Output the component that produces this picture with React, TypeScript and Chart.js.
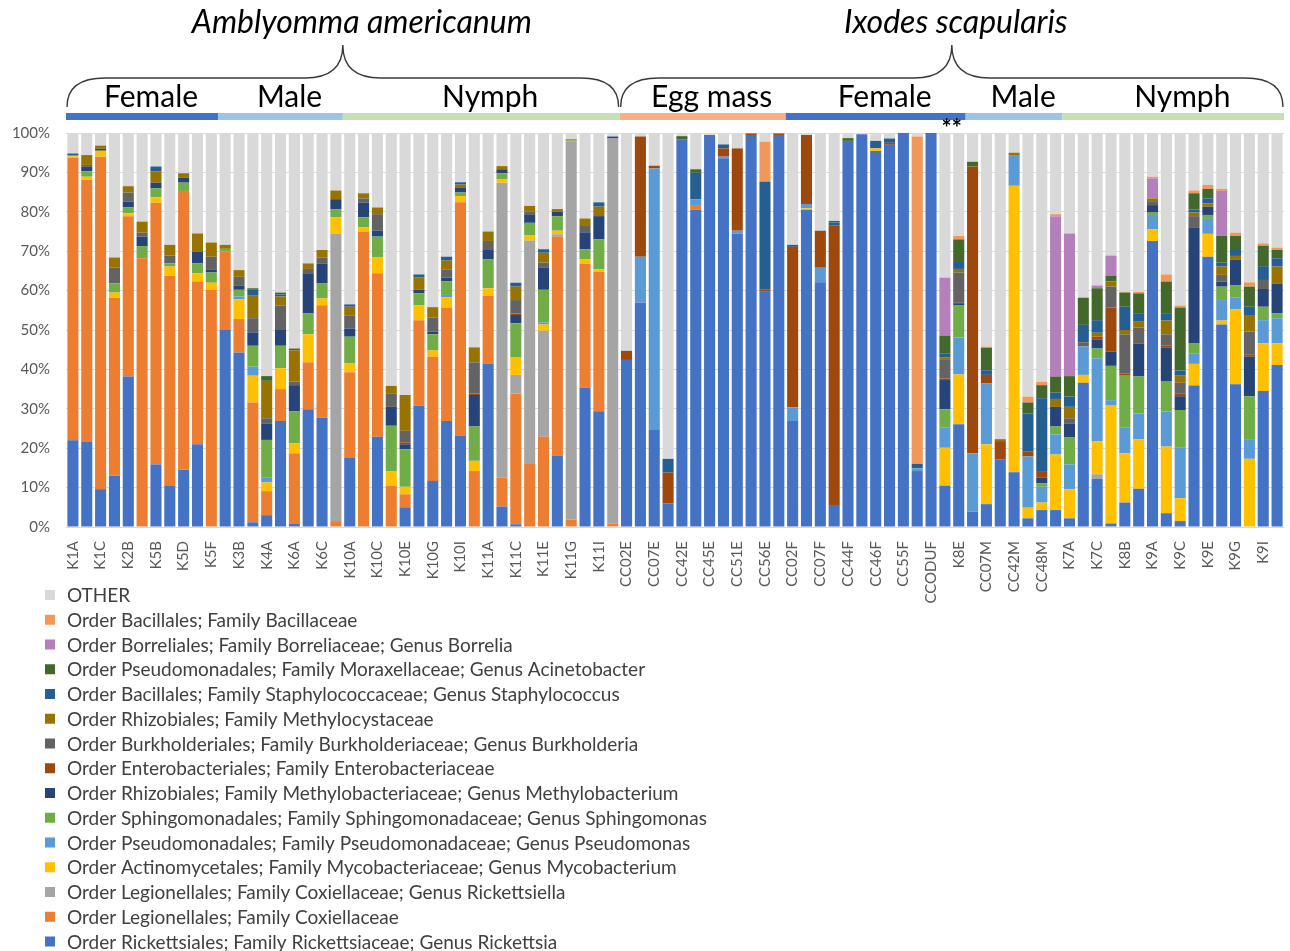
import React, { useEffect, useRef } from 'react';
import { Chart, registerables } from 'chart.js';

Chart.register(...registerables);

// Sample labels (only every second sample is labelled on the axis)
const sampleLabels = [
  'K1A', '', 'K1C', '', 'K2B', '', 'K5B', '', 'K5D', '',
  'K5F', '', 'K3B', '', 'K4A', '', 'K6A', '', 'K6C', '',
  'K10A', '', 'K10C', '', 'K10E', '', 'K10G', '', 'K10I', '',
  'K11A', '', 'K11C', '', 'K11E', '', 'K11G', '', 'K11I', '',
  'CC02E', '', 'CC07E', '', 'CC42E', '', 'CC45E', '', 'CC51E', '',
  'CC56E', '', 'CC02F', '', 'CC07F', '', 'CC44F', '', 'CC46F', '',
  'CC55F', '', 'CCODUF', '', 'K8E', '', 'CC07M', '', 'CC42M', '',
  'CC48M', '', 'K7A', '', 'K7C', '', 'K8B', '', 'K9A', '',
  'K9C', '', 'K9E', '', 'K9G', '', 'K9I', '',
];

const yTickValues = [0, 10, 20, 30, 40, 50, 60, 70, 80, 90, 100];

// Series values (% of reads), bottom of stack first
const rickettsia = [
  22, 21.6, 9.6, 13.0, 38.2, 0, 15.9, 10.5, 14.5, 21.0,
  0, 50.0, 44.3, 1.2, 3.0, 26.9, 0.9, 29.9, 27.7, 0,
  17.6, 0, 22.9, 0, 5.0, 30.8, 11.7, 26.9, 23.2, 0,
  41.5, 5.2, 0.7, 0, 0, 18.1, 0, 35.4, 29.4, 0,
  42.4, 57.0, 24.6, 6.0, 98.4, 80.6, 99.5, 93.6, 74.5, 99.5,
  59.7, 99.5, 26.9, 80.5, 62.1, 5.6, 98.0, 99.7, 95.4, 97.0,
  100, 14.2, 100, 10.5, 26.1, 3.9, 5.8, 17.2, 13.9, 2.2,
  4.3, 4.3, 2.2, 36.6, 12.2, 0.9, 6.2, 9.7, 72.6, 3.5,
  1.5, 35.9, 68.6, 51.4, 36.2, 0, 34.5, 41.1,
];
const coxiellaceae = [
  71.7, 66.5, 84.4, 45.2, 40.7, 68.2, 66.4, 53.3, 70.8, 41.3,
  60.2, 19.9, 8.5, 30.4, 6.1, 8.1, 17.8, 11.9, 28.6, 1.5,
  21.7, 75.0, 41.5, 10.5, 3.3, 21.7, 31.5, 28.8, 59.2, 14.2,
  17.2, 7.3, 33.2, 16.0, 22.9, 55.6, 1.9, 31.4, 35.4, 0.9,
  0, 0, 0, 0, 0, 0.9, 0, 0, 0, 0,
  0, 0, 0, 0, 0, 0, 0, 0, 0, 0,
  0, 0, 0, 0, 0, 0, 0, 0, 0, 0,
  0, 0, 0, 0, 0, 0, 0, 0, 0, 0,
  0, 0, 0, 0, 0, 0, 0, 0,
];
const rickettsiella = [
  0, 0, 0, 0, 0, 0, 0, 0, 0, 0,
  0, 0, 0, 0, 0, 0, 0, 0, 0, 73.0,
  0, 0, 0, 0, 0, 0, 0, 0, 0, 0,
  0, 74.9, 4.7, 56.7, 26.9, 0.6, 95.9, 0, 0, 97.7,
  0, 0, 0, 0, 0, 0, 0, 0, 0, 0,
  0, 0, 0, 0, 0, 0, 0, 0, 0, 0,
  0, 0, 0, 0, 0, 0, 0, 0, 0, 0,
  0, 0, 0, 0, 1.2, 0, 0, 0, 0, 0,
  0, 0, 0, 0, 0, 0, 0, 0,
];
const mycobacterium = [
  0.4, 0.8, 1.5, 1.3, 0.7, 0, 1.4, 2.3, 0, 2.1,
  1.8, 0, 5.0, 6.8, 2.2, 5.3, 2.5, 7.1, 1.7, 4.1,
  2.2, 1.1, 4.0, 3.7, 1.9, 3.8, 1.6, 2.6, 1.6, 2.6,
  1.9, 0.9, 4.4, 1.4, 1.6, 0.9, 0, 1.1, 0.6, 0,
  0, 0, 0, 0, 0, 0, 0, 0, 0, 0,
  0, 0, 0, 0.4, 0, 0, 0, 0, 0.7, 0,
  0, 0, 0, 9.6, 12.6, 0, 15.2, 0, 72.7, 2.7,
  1.9, 14.1, 7.4, 2.0, 8.4, 29.9, 12.5, 12.6, 3.0, 16.9,
  5.8, 5.5, 5.8, 1.0, 19.1, 17.3, 12.1, 5.5,
];
const pseudomonas = [
  0, 0, 0, 0, 0, 0, 0, 0, 0, 0,
  0, 0, 0.7, 2.3, 1.2, 0, 0, 0, 0, 0,
  0, 0, 0, 0, 0, 0, 0, 0.6, 0, 0,
  0, 0, 0, 0, 0.5, 0, 0, 0, 0, 0,
  0, 11.6, 66.4, 0, 0, 1.7, 0, 0.4, 0.7, 0,
  0, 0, 3.4, 1.1, 3.7, 0, 0, 0, 0, 0,
  0, 0.7, 0, 5.1, 9.4, 14.8, 15.5, 0, 7.8, 13.0,
  4.0, 5.1, 6.3, 7.2, 21.0, 1.4, 6.5, 6.5, 3.6, 8.9,
  12.8, 2.7, 3.8, 5.2, 2.9, 5.0, 5.9, 6.4,
];
const sphingomonas = [
  0.3, 1.4, 0, 2.3, 1.5, 3.1, 2.3, 0.8, 2.1, 2.5,
  2.6, 0.7, 1.7, 5.3, 9.6, 5.7, 8.2, 5.3, 3.8, 2.0,
  6.8, 2.5, 5.3, 11.5, 9.5, 3.0, 4.1, 3.5, 0.9, 8.7,
  7.3, 1.5, 8.7, 3.1, 8.3, 3.7, 0.3, 2.6, 7.6, 0,
  0, 0, 0, 0, 0, 0, 0, 0, 0, 0,
  0, 0, 0, 0, 0, 0, 0, 0, 0, 0,
  0, 0, 0, 4.7, 8.1, 0, 0, 0, 0, 0,
  0.9, 2.0, 6.8, 0, 2.5, 8.7, 13.2, 9.4, 0.6, 7.6,
  9.6, 2.5, 1.0, 3.4, 3.1, 10.9, 3.4, 1.2,
];
const methylobacterium = [
  0, 1.1, 0.5, 0, 1.5, 2.4, 1.4, 0, 1.3, 3.0,
  0.8, 0, 1.0, 3.4, 4.2, 4.0, 6.6, 10.2, 5.1, 2.6,
  2.1, 3.7, 1.5, 4.8, 1.3, 0.9, 0.7, 0.9, 1.3, 8.0,
  2.4, 1.0, 2.1, 2.0, 5.7, 1.1, 0, 4.3, 5.9, 0.5,
  0, 0, 0, 0, 0, 0, 0, 0, 0, 0,
  0, 0, 0, 0, 0, 0, 0, 0, 0, 0,
  0, 0, 0, 7.4, 0.4, 0, 0, 0, 0, 0,
  1.4, 5.0, 3.6, 0, 2.2, 3.6, 0, 8.4, 1.9, 8.7,
  3.5, 29.5, 2.1, 1.3, 6.5, 10.0, 4.5, 7.6,
];
const enterobacteriaceae = [
  0, 0, 0, 0, 0, 0, 0, 0, 0, 0,
  0, 0, 0, 0, 0, 0, 0, 0, 0, 0,
  0, 0, 0, 0, 0.5, 0, 0, 0, 0, 0.4,
  0, 0, 0.4, 0, 0, 0, 0, 0, 0, 0,
  2.3, 30.5, 0.7, 7.8, 0, 0, 0, 2.1, 20.9, 0.4,
  0.6, 0.4, 40.8, 17.5, 9.4, 70.9, 0, 0, 0, 0.5,
  0, 0, 0, 0.4, 0.3, 72.8, 2.1, 4.6, 0, 1.2,
  1.7, 0, 0, 0, 0.8, 11.2, 0.6, 0, 0, 0.4,
  0.6, 0, 0, 0, 0, 0.5, 0, 0,
];
const burkholderia = [
  0, 0.5, 0, 4.1, 2.3, 1.0, 0, 2.0, 0, 0,
  3.2, 0, 2.3, 3.6, 1.3, 6.2, 0.9, 1.1, 1.5, 0,
  3.2, 1.1, 4.2, 3.3, 2.9, 0, 3.6, 2.1, 0, 7.9,
  2.3, 0, 3.4, 0.8, 1.2, 0, 0, 1.6, 0, 0,
  0, 0, 0, 0, 0, 0, 0, 0, 0, 0,
  0, 0, 0, 0, 0, 0, 0, 0, 0, 0,
  0, 0, 0, 4.7, 7.7, 0, 0, 0, 0, 0,
  0, 0, 1.3, 1.1, 0, 5.3, 9.9, 4.0, 0.8, 2.9,
  2.8, 2.8, 0, 1.7, 0, 5.9, 2.3, 0,
];
const methylocystaceae = [
  0, 2.5, 0.8, 2.5, 1.6, 2.8, 2.8, 2.7, 1.1, 4.6,
  3.6, 1.0, 1.7, 5.7, 9.5, 2.3, 7.9, 1.4, 1.9, 2.2,
  2.3, 1.3, 1.7, 2.0, 9.1, 3.2, 2.6, 2.2, 0.7, 3.8,
  2.4, 0.8, 3.4, 1.5, 2.5, 0.7, 0.3, 1.9, 2.4, 0,
  0, 0, 0, 0, 0, 0, 0, 0, 0, 0,
  0, 0, 0, 0, 0, 0, 0, 0, 0, 0,
  0, 0, 0, 0.7, 0.9, 0, 0, 0.5, 0.6, 0,
  0, 2.0, 2.9, 0, 1.0, 1.3, 1.1, 1.5, 0.9, 3.5,
  1.8, 0.9, 0.8, 2.1, 1.0, 4.0, 0, 4.3,
];
const staphylococcus = [
  0.4, 0, 0, 0, 0, 0, 1.3, 0, 0, 0,
  0, 0, 0, 1.5, 0, 0.5, 0, 0, 0, 0,
  0.6, 0, 0, 0, 0, 0.7, 0, 1.0, 0.6, 0,
  0, 0, 1.0, 0, 0.9, 0, 0, 0, 1.1, 0,
  0, 0, 0, 3.5, 0, 6.7, 0, 1.0, 0, 0,
  27.3, 0, 0.5, 0, 0, 0.8, 0, 0, 1.9, 1.1,
  0, 1.1, 0, 1.0, 2.0, 0, 1.2, 0, 0, 9.7,
  18.5, 1.6, 2.6, 4.4, 3.2, 0, 5.9, 2.0, 0, 1.7,
  1.3, 0.8, 1.3, 1.0, 1.5, 2.3, 3.5, 2.1,
];
const acinetobacter = [
  0, 0, 0, 0, 0, 0, 0, 0, 0, 0,
  0, 0, 0, 0.4, 1.2, 0.5, 0.5, 0, 0, 0,
  0, 0, 0, 0, 0, 0, 0, 0, 0, 0,
  0, 0, 0, 0, 0, 0, 0, 0, 0, 0,
  0, 0, 0, 0, 0.8, 0.9, 0, 0, 0, 0,
  0, 0, 0, 0, 0, 0.4, 0.7, 0, 0, 0,
  0, 0, 0, 4.5, 5.5, 1.2, 5.7, 0, 0, 2.8,
  3.3, 4.1, 5.2, 6.9, 8.1, 1.5, 3.6, 5.2, 0, 8.2,
  16.0, 4.1, 2.4, 6.8, 3.6, 5.1, 5.2, 2.1,
];
const borrelia = [
  0, 0, 0, 0, 0, 0, 0, 0, 0, 0,
  0, 0, 0, 0, 0, 0, 0, 0, 0, 0,
  0, 0, 0, 0, 0, 0, 0, 0, 0, 0,
  0, 0, 0, 0, 0, 0, 0, 0, 0, 0,
  0, 0, 0, 0, 0, 0, 0, 0, 0, 0,
  0, 0, 0, 0, 0, 0, 0, 0, 0, 0,
  0, 0, 0, 14.7, 0, 0, 0, 0, 0, 0,
  0, 40.7, 36.2, 0, 0.7, 5.1, 0, 0, 5.1, 0,
  0, 0, 0, 11.4, 0, 0, 0, 0,
];
const bacillaceae = [
  0, 0, 0, 0, 0, 0, 0, 0, 0, 0,
  0, 0, 0, 0, 0, 0, 0, 0, 0, 0,
  0, 0, 0, 0, 0, 0, 0, 0, 0, 0,
  0, 0, 0, 0, 0, 0, 0, 0, 0, 0,
  0, 0, 0, 0, 0, 0, 0, 0, 0, 0,
  10.2, 0, 0, 0, 0, 0, 0, 0, 0, 0,
  0, 83.1, 0, 0, 0.9, 0, 0.3, 0, 0, 1.5,
  0.9, 0.5, 0, 0, 0, 0, 0.2, 0.4, 0.4, 1.8,
  0.5, 0.7, 1.0, 0.5, 0.8, 1.1, 0.6, 0.6,
];
const other = [
  5.2, 5.6, 3.2, 31.6, 13.5, 22.5, 8.5, 28.4, 10.2, 25.5,
  27.8, 28.4, 34.8, 39.4, 61.7, 40.5, 54.7, 33.1, 29.7, 14.6,
  43.5, 15.3, 18.9, 64.2, 66.5, 35.9, 44.2, 31.4, 12.5, 54.4,
  25.0, 8.4, 38.0, 18.5, 29.5, 19.3, 1.6, 21.7, 17.6, 0.9,
  55.3, 0.9, 8.3, 82.7, 0.8, 9.2, 0.5, 2.9, 3.9, 0.1,
  2.2, 0.1, 28.4, 0.5, 24.8, 22.3, 1.3, 0.3, 2.0, 1.4,
  0, 0.9, 0, 36.7, 26.1, 7.3, 54.2, 77.7, 5.0, 66.9,
  63.1, 20.6, 25.5, 41.8, 38.7, 31.1, 40.3, 40.3, 11.1, 35.9,
  43.8, 14.6, 13.2, 14.2, 25.3, 37.9, 28.0, 29.1,
];

const seriesNames = [
  'Order Rickettsiales; Family Rickettsiaceae; Genus Rickettsia',
  'Order Legionellales; Family Coxiellaceae',
  'Order Legionellales; Family Coxiellaceae; Genus Rickettsiella',
  'Order Actinomycetales; Family Mycobacteriaceae; Genus Mycobacterium',
  'Order Pseudomonadales; Family Pseudomonadaceae; Genus Pseudomonas',
  'Order Sphingomonadales; Family Sphingomonadaceae; Genus Sphingomonas',
  'Order Rhizobiales; Family Methylobacteriaceae; Genus Methylobacterium',
  'Order Enterobacteriales; Family Enterobacteriaceae',
  'Order Burkholderiales; Family Burkholderiaceae; Genus Burkholderia',
  'Order Rhizobiales; Family Methylocystaceae',
  'Order Bacillales; Family Staphylococcaceae; Genus Staphylococcus',
  'Order Pseudomonadales; Family Moraxellaceae; Genus Acinetobacter',
  'Order Borreliales; Family Borreliaceae; Genus Borrelia',
  'Order Bacillales; Family Bacillaceae',
  'OTHER',
];
const seriesColors = [
  '#4472C4', '#ED7D31', '#A5A5A5', '#FFC000', '#5B9BD5',
  '#70AD47', '#264478', '#9E480E', '#636363', '#997300',
  '#255E91', '#43682B', '#B57FBB', '#F1975A', '#D9D9D9',
];

// Header groups
const speciesNames = ['Amblyomma americanum', 'Ixodes scapularis'];
const speciesStart = [0, 40];
const speciesEnd = [39, 87];
const speciesTextShift = [19, 4];
const stageNames = ['Female', 'Male', 'Nymph', 'Egg mass', 'Female', 'Male', 'Nymph'];
const stageStart = [0, 11, 20, 40, 52, 65, 72];
const stageEnd = [10, 19, 39, 51, 64, 71, 87];
const stageColors = ['#4472C4', '#9DC3E6', '#C5E0B4', '#F4B183', '#4472C4', '#9DC3E6', '#C5E0B4'];
const markText = '**';
const markIndex = 63.5;

const FONT = 'Lato, "Open Sans", sans-serif';

export default function App() {
  const ref = useRef<HTMLCanvasElement>(null);

  useEffect(() => {
    document.body.style.margin = '0';
    const canvas = ref.current;
    if (!canvas) return;
    const seriesValues = [
      rickettsia, coxiellaceae, rickettsiella, mycobacterium, pseudomonas,
      sphingomonas, methylobacterium, enterobacteriaceae, burkholderia,
      methylocystaceae, staphylococcus, acinetobacter, borrelia, bacillaceae, other,
    ];
    const datasets = seriesNames.map((name, i) => ({
      label: name,
      data: seriesValues[i],
      backgroundColor: seriesColors[i],
      borderWidth: 0,
      categoryPercentage: 1,
      barPercentage: 0.8,
    }));

    const overlay = {
      id: 'overlay',
      afterDraw(chart: any) {
        const ctx = chart.ctx as CanvasRenderingContext2D;
        const xs = chart.scales.x;
        const step = xs.getPixelForValue(1) - xs.getPixelForValue(0);
        const left = (i: number) => xs.getPixelForValue(i) - step / 2;
        const right = (i: number) => xs.getPixelForValue(i) + step / 2;
        ctx.save();
        // stage strips and labels
        stageNames.forEach((name, g) => {
          const l = left(stageStart[g]);
          const r = right(stageEnd[g]);
          ctx.fillStyle = stageColors[g];
          ctx.fillRect(l, 113, r - l, 7);
          ctx.fillStyle = '#000';
          ctx.font = `30px ${FONT}`;
          ctx.textAlign = 'center';
          ctx.textBaseline = 'alphabetic';
          ctx.fillText(name, (l + r) / 2 + 9, 107);
        });
        // braces and species names
        speciesNames.forEach((name, s) => {
          const x1 = left(speciesStart[s]) + 1;
          const x2 = right(speciesEnd[s]) - 1;
          const xm = (x1 + x2) / 2;
          const yb = 107, ym = 78, yt = 45, rr = 38;
          ctx.strokeStyle = '#3a3a3a';
          ctx.lineWidth = 1.4;
          ctx.beginPath();
          ctx.moveTo(x1, yb);
          ctx.quadraticCurveTo(x1, ym, x1 + rr, ym);
          ctx.lineTo(xm - rr, ym);
          ctx.quadraticCurveTo(xm, ym, xm, yt);
          ctx.quadraticCurveTo(xm, ym, xm + rr, ym);
          ctx.lineTo(x2 - rr, ym);
          ctx.quadraticCurveTo(x2, ym, x2, yb);
          ctx.stroke();
          ctx.fillStyle = '#000';
          ctx.font = `italic 32px ${FONT}`;
          ctx.textAlign = 'center';
          ctx.textBaseline = 'alphabetic';
          ctx.fillText(name, xm + speciesTextShift[s], 33);
        });
        // marker
        ctx.fillStyle = '#000';
        ctx.font = `bold 24px ${FONT}`;
        ctx.textAlign = 'center';
        ctx.textBaseline = 'middle';
        ctx.fillText(markText, (xs.getPixelForValue(Math.floor(markIndex)) + xs.getPixelForValue(Math.ceil(markIndex))) / 2, 129);
        // legend (reverse of stack order)
        ctx.font = `19px ${FONT}`;
        ctx.textAlign = 'left';
        ctx.textBaseline = 'middle';
        for (let k = 0; k < seriesNames.length; k++) {
          const i = seriesNames.length - 1 - k;
          const y = 595 + k * 24.75;
          ctx.fillStyle = seriesColors[i];
          ctx.fillRect(45, y - 5, 10, 10);
          ctx.fillStyle = '#404040';
          ctx.fillText(seriesNames[i], 67, y + 1);
        }
        ctx.restore();
      },
    };

    const chart = new Chart(canvas, {
      type: 'bar',
      data: { labels: sampleLabels, datasets },
      options: {
        responsive: false,
        animation: false,
        devicePixelRatio: 1,
        layout: { padding: { top: 133, right: 6, bottom: 334, left: 0 } },
        plugins: { legend: { display: false }, tooltip: { enabled: false } },
        scales: {
          x: {
            stacked: true,
            grid: { display: false, drawTicks: false },
            border: { display: false },
            ticks: {
              autoSkip: false,
              maxRotation: 90,
              minRotation: 90,
              padding: 14,
              color: '#595959',
              font: { family: FONT, size: 15 },
            },
            afterFit: (s: any) => { s.height = 90; s.paddingLeft = 0; s.paddingRight = 0; },
          },
          y: {
            stacked: true,
            min: 0,
            max: 100,
            afterBuildTicks: (s: any) => { s.ticks = yTickValues.map((v) => ({ value: v })); },
            ticks: {
              callback: (v: any) => `${v}%`,
              padding: 16,
              color: '#595959',
              font: { family: FONT, size: 15 },
            },
            grid: { color: '#D9D9D9', drawTicks: false },
            border: { display: false },
            afterFit: (s: any) => { s.width = 66; },
          },
        },
      },
      plugins: [overlay],
    } as any);
    return () => chart.destroy();
  }, []);

  return <canvas ref={ref} width={1290} height={951} style={{ display: 'block' }} />;
}
